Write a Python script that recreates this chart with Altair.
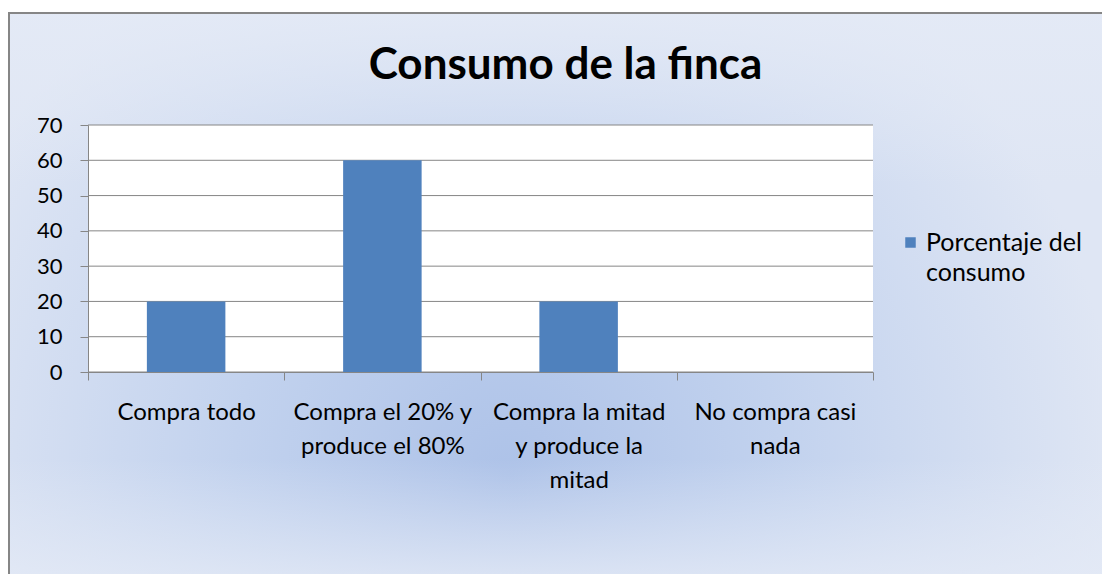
import altair as alt
import pandas as pd

# ---- data ----
categories = [
    "Compra todo",
    "Compra el 20% y\nproduce el 80%",
    "Compra la mitad\ny produce la\nmitad",
    "No compra casi\nnada",
]
values = [20, 60, 20, 0]
series_name = "Porcentaje del consumo"
y_ticks = [0, 10, 20, 30, 40, 50, 60, 70]
title_text = "Consumo de la finca"

df = pd.DataFrame({"categoria": categories, "valor": values, "serie": [series_name] * len(categories)})
grid_df = pd.DataFrame({"valor": y_ticks})

W, H = 785, 247
FONT = "Lato"
GRAY = "#868686"
BLUE = "#4f81bd"

radial_bg = {
    "gradient": "radial",
    "x1": 0.45, "y1": 0.66, "r1": 0,
    "x2": 0.45, "y2": 0.66, "r2": 0.55,
    "stops": [
        {"offset": 0, "color": "#adc2e8"},
        {"offset": 0.45, "color": "#c2d2ee"},
        {"offset": 1, "color": "#dfe6f4"},
    ],
}
vertical_veil = {
    "gradient": "linear",
    "x1": 0, "y1": 0, "x2": 0, "y2": 1,
    "stops": [
        {"offset": 0, "color": "rgba(228,234,246,0.9)"},
        {"offset": 0.3, "color": "rgba(228,234,246,0)"},
        {"offset": 0.78, "color": "rgba(228,234,246,0)"},
        {"offset": 1, "color": "rgba(228,234,246,0.85)"},
    ],
}

frame_pos = dict(x=alt.value(-79), x2=alt.value(1030), y=alt.value(-112), y2=alt.value(460))

frame = alt.Chart(alt.Data(values=[{}])).mark_rect(fill=radial_bg).encode(**frame_pos)
veil = alt.Chart(alt.Data(values=[{}])).mark_rect(
    fill=vertical_veil, stroke=GRAY, strokeWidth=2
).encode(**frame_pos)

plot_bg = alt.Chart(alt.Data(values=[{}])).mark_rect(fill="white").encode(
    x=alt.value(0), x2=alt.value(W), y=alt.value(0), y2=alt.value(H)
)

y_axis = alt.Axis(
    title=None, values=y_ticks, grid=False,
    labelFont=FONT, labelFontSize=22, labelColor="black",
    labelPadding=18, tickSize=8, tickColor=GRAY, domainColor=GRAY,
    zindex=1,
)
y_scale = alt.Scale(domain=[0, 70])

grid = alt.Chart(grid_df).mark_rule(color=GRAY, strokeWidth=1).encode(
    y=alt.Y("valor:Q", axis=y_axis, scale=y_scale)
)

bars = alt.Chart(df).mark_bar(width=alt.RelativeBandSize(0.4)).encode(
    x=alt.X(
        "categoria:N",
        sort=categories,
        scale=alt.Scale(paddingInner=0, paddingOuter=0),
        axis=alt.Axis(
            title=None, labelAngle=0, grid=False,
            labelExpr="split(datum.label, '\\n')",
            labelFont=FONT, labelFontSize=24, labelColor="black",
            labelLineHeight=34, labelPadding=20, labelLimit=300,
            tickBand="extent", tickSize=8, tickColor=GRAY, domainColor=GRAY,
            zindex=1,
        ),
    ),
    y=alt.Y("valor:Q", axis=y_axis, scale=y_scale),
    color=alt.Color(
        "serie:N",
        scale=alt.Scale(range=[BLUE]),
        legend=alt.Legend(
            title=None, orient="none", legendX=810, legendY=105,
            symbolType="square", symbolSize=110, symbolStrokeWidth=0,
            labelFont=FONT, labelFontSize=25, labelColor="black",
            labelOffset=3, labelLimit=300, padding=0,
            labelExpr="[substring(datum.label, 0, 14), substring(datum.label, 15)]",
        ),
    ),
)

chart = alt.layer(frame, veil, plot_bg, grid, bars).properties(
    width=W,
    height=H,
    autosize="none",
    padding={"left": 80, "top": 117, "right": 229, "bottom": 202},
    title=alt.TitleParams(
        text=title_text, font=FONT, fontSize=44, fontWeight="bold", color="black",
        anchor="middle", frame="group", dx=85, offset=-111, baseline="alphabetic",
    ),
).configure(style={"guide-label": {"lineHeight": 30}}).configure_view(stroke=None)

chart.save("out.html", embed_options={"renderer": "svg", "actions": False})
